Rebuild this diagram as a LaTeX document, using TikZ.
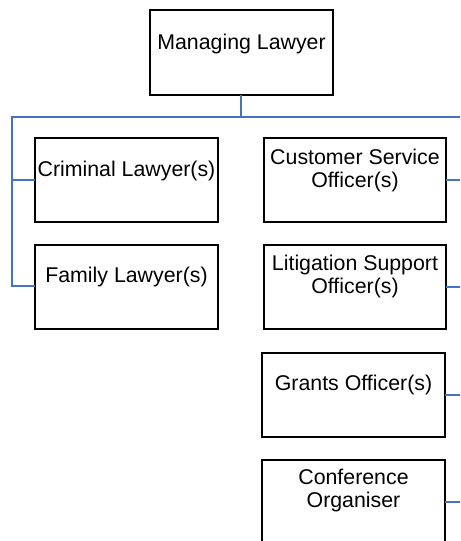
\documentclass[tikz,border=0pt]{standalone}
\usepackage{fontspec}
\setmainfont{Liberation Sans}
\begin{document}
\begin{tikzpicture}[x=0.75pt,y=-0.75pt,
  box/.style={draw=black,line width=1.2pt,fill=white},
  lbl/.style={font=\fontsize{16}{17.3}\selectfont,align=center,inner sep=0pt},
  conn/.style={draw={rgb,255:red,68;green,114;blue,196},line width=1.4pt}]
\clip (0,0) rectangle (460,541);
\useasboundingbox (0,0) rectangle (460,541);
% boxes
\path[box] (150,10) rectangle (333,95); \coordinate (mlB) at (241,95);
\node[lbl] (ml) at (241.5,43.5) {Managing Lawyer};
\path[box] (35,138) rectangle (218,222); \coordinate (crL) at (35,180);
\node[lbl] (cr) at (126.5,170.5) {Criminal Lawyer(s)};
\path[box] (264,138) rectangle (446,222); \coordinate (csR) at (446,180);
\node[lbl] (cs) at (355,170.5) {Customer Service\\Officer(s)};
\path[box] (35,245) rectangle (218,329); \coordinate (faL) at (35,286);
\node[lbl] (fa) at (126.5,276.5) {Family Lawyer(s)};
\path[box] (264,245) rectangle (446,329); \coordinate (liR) at (446,287);
\node[lbl] (li) at (355,276.5) {Litigation Support\\Officer(s)};
\path[box] (262,353) rectangle (445,437); \coordinate (grR) at (445,395);
\node[lbl] (gr) at (353.5,384.5) {Grants Officer(s)};
\path[box] (262,460) rectangle (445,570); \coordinate (coR) at (445,502);
\node[lbl] (co) at (353.5,490.5) {Conference\\Organiser};
% connectors
\coordinate (bus) at (241,117);
\coordinate (busL) at (12,117);
\coordinate (busR) at (462,117);
\coordinate (edge) at (462,0);
\draw[conn] (mlB) -- (bus);
\draw[conn] (busR) -- (busL) -- (12,286) -- (faL);
\draw[conn] (12,180) -- (crL);
\draw[conn] (csR) -- (csR -| edge);
\draw[conn] (liR) -- (liR -| edge);
\draw[conn] (grR) -- (grR -| edge);
\draw[conn] (coR) -- (coR -| edge);
\end{tikzpicture}
\end{document}
